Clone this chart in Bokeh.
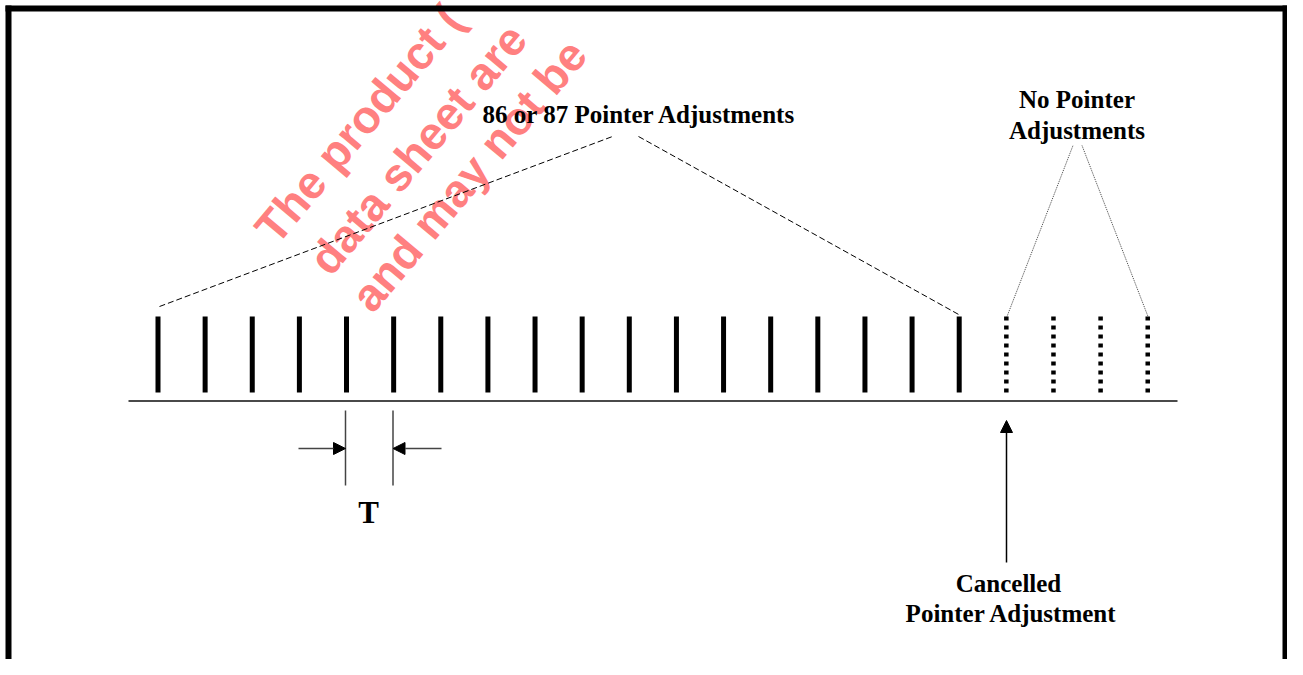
from bokeh.plotting import figure
from bokeh.models import Range1d, Arrow, NormalHead
from bokeh.core.properties import value
from bokeh.embed import file_html
from bokeh.resources import INLINE

# ---------------- data ----------------
adjust_slots = [0, 1, 2, 3, 4, 5, 6, 7, 8, 9, 10, 11, 12, 13, 14, 15, 16, 17]
cancel_slots = [18, 19, 20, 21]
group_label = "86 or 87 Pointer Adjustments"
none_label = ["No Pointer", "Adjustments"]
cancel_label = ["Cancelled", "Pointer Adjustment"]
period_label = "T"
watermark_lines = ["The product (", "data sheet are", "and may not be"]

# ---------------- layout ----------------
X0 = 157.5      # picture pixel of slot 0
T = 47.13       # pixels per slot
W, H = 1287, 659


def sx(px):
    return (px - X0) / T


p = figure(width=W, height=H, x_range=Range1d(sx(0), sx(W)),
           y_range=Range1d(H, 0), output_backend="svg",
           toolbar_location=None, min_border=0, x_axis_type=None,
           y_axis_type=None, outline_line_color=None,
           background_fill_color="white", border_fill_color="white")
p.grid.visible = False

# watermark
p.text(x=[sx(264), sx(318), sx(360)], y=[236, 267, 304], text=watermark_lines,
       angle=0.873, text_font=value("Liberation Sans"), text_font_style="bold",
       text_font_size="46px", text_color="#ff8080", text_align="left",
       text_baseline="alphabetic")

# frame
p.segment(x0=[sx(5)], y0=[8], x1=[sx(W)], y1=[8], line_color="black", line_width=6)
p.segment(x0=[sx(8)], y0=[5], x1=[sx(8)], y1=[H], line_color="black", line_width=6)
p.segment(x0=[sx(W - 2.5)], y0=[5], x1=[sx(W - 2.5)], y1=[H], line_color="black", line_width=5)

# time axis line
p.segment(x0=[sx(128)], y0=[400.5], x1=[sx(1177)], y1=[400.5], line_color="#4a4a4a", line_width=2)

# pulses
p.segment(x0=adjust_slots, y0=[392] * len(adjust_slots), x1=adjust_slots,
          y1=[316] * len(adjust_slots), line_color="black", line_width=5, line_cap="butt")
p.segment(x0=cancel_slots, y0=[392] * len(cancel_slots), x1=cancel_slots,
          y1=[316] * len(cancel_slots), line_color="black", line_width=4.5,
          line_cap="butt", line_dash="4 5")

# bracket for adjustments
p.line(x=[sx(159), sx(612)], y=[306, 136], line_color="black", line_width=1, line_dash="6 3")
p.line(x=[sx(638), sx(960)], y=[136, 315], line_color="black", line_width=1, line_dash="6 3")

# bracket for no adjustments
p.line(x=[sx(1006.5), sx(1072.5)], y=[316, 145], line_color="#444444", line_width=1, line_dash="1 1")
p.line(x=[sx(1081.5), sx(1147.5)], y=[145, 316], line_color="#444444", line_width=1, line_dash="1 1")

# period markers
p.segment(x0=[sx(345), sx(392.5)], y0=[410, 410], x1=[sx(345), sx(392.5)], y1=[485, 485],
          line_color="#444444", line_width=1.5)
p.add_layout(Arrow(x_start=sx(298), y_start=448, x_end=sx(345), y_end=448,
                   line_color="#444444", line_width=1.5,
                   end=NormalHead(size=12, fill_color="black", line_color="black", line_width=1)))
p.add_layout(Arrow(x_start=sx(441), y_start=448, x_end=sx(392.5), y_end=448,
                   line_color="#444444", line_width=1.5,
                   end=NormalHead(size=12, fill_color="black", line_color="black", line_width=1)))

# cancelled arrow
p.add_layout(Arrow(x_start=sx(1006), y_start=562, x_end=sx(1006), y_end=420,
                   line_color="black", line_width=1.5,
                   end=NormalHead(size=12, fill_color="black", line_color="black", line_width=1)))

# labels
font = dict(text_font=value("Liberation Serif"), text_font_style="bold",
            text_font_size="25px", text_color="black", text_align="center",
            text_baseline="alphabetic")
p.text(x=[sx(639)], y=[114], text=[group_label], **font)
p.text(x=[sx(1076.5), sx(1076.5)], y=[99, 130], text=none_label, **font)
p.text(x=[sx(1008), sx(1011)], y=[583, 613], text=cancel_label, **font)
big = dict(font, text_font_size="31px")
p.text(x=[sx(368)], y=[512], text=[period_label], **big)

open("out.html", "w").write(file_html(p, INLINE))
